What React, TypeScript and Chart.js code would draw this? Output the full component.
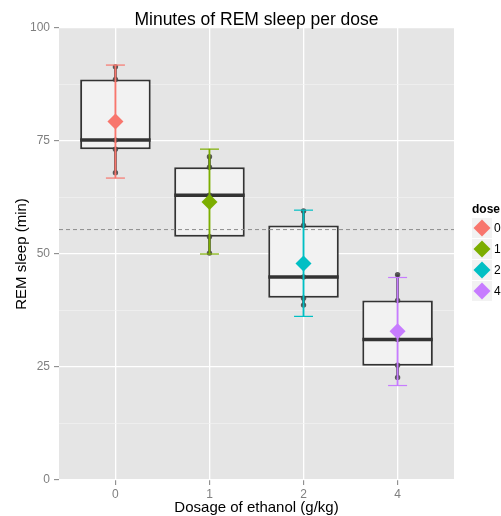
import React, { useEffect, useRef } from "react";
import { Chart, registerables } from "chart.js";

Chart.register(...registerables);

const FONT = '"Liberation Sans", Arial, sans-serif';

const doseLabels = ["0", "1", "2", "4"];
const doseColors = ["#F8766D", "#7CAE00", "#00BFC4", "#C77CFF"];

const remDose0 = [91.4, 88.6, 75.2, 73.2, 68.0];
const remDose1 = [71.5, 69.2, 63.0, 53.8, 50.2];
const remDose2 = [59.5, 56.3, 44.9, 40.2, 38.7];
const remDose4 = [45.4, 39.7, 31.1, 25.4, 22.7];

const boxLower = [73.2, 53.8, 40.3, 25.3];
const boxMedian = [75.2, 63.0, 44.9, 31.1];
const boxUpper = [88.6, 69.2, 56.3, 39.7];
const whiskerLow = [68.0, 50.2, 38.7, 22.7];
const whiskerHigh = [91.4, 71.5, 59.5, 45.4];

const doseMean = [79.3, 61.5, 47.9, 32.9];
const ciLow = [66.8, 50.0, 36.2, 20.9];
const ciHigh = [91.8, 73.2, 59.7, 44.8];

const yMajorTicks = [0, 25, 50, 75, 100];
const yMinorTicks = [12.5, 37.5, 62.5, 87.5];

const titleText = "Minutes of REM sleep per dose";
const xTitle = "Dosage of ethanol (g/kg)";
const yTitle = "REM sleep (min)";
const legendTitle = "dose";

export default function App() {
  const ref = useRef<HTMLCanvasElement | null>(null);

  useEffect(() => {
    document.body.style.margin = "0";
    const canvas = ref.current;
    if (!canvas) return;

    const groups = [remDose0, remDose1, remDose2, remDose4];
    const allPts: { x: number; y: number }[] = [];
    groups.forEach((g, i) => g.forEach((v) => allPts.push({ x: i, y: v })));
    const grandMean = allPts.reduce((s, p) => s + p.y, 0) / allPts.length;

    const capData: { x: number; y: number }[] = [];
    const capColors: string[] = [];
    doseLabels.forEach((_, i) => {
      capData.push({ x: i, y: ciLow[i] });
      capData.push({ x: i, y: ciHigh[i] });
      capColors.push(doseColors[i], doseColors[i]);
    });

    const bgPlugin = {
      id: "panelBg",
      beforeDraw(chart: any) {
        const { ctx, chartArea } = chart;
        ctx.save();
        ctx.fillStyle = "#E5E5E5";
        ctx.fillRect(chartArea.left, chartArea.top, chartArea.right - chartArea.left, chartArea.bottom - chartArea.top);
        ctx.restore();
      },
      afterDraw(chart: any) {
        const { ctx, chartArea } = chart;
        ctx.save();
        ctx.fillStyle = "#000";
        ctx.font = `17.5px ${FONT}`;
        ctx.textAlign = "center";
        ctx.textBaseline = "alphabetic";
        ctx.fillText(titleText, (chartArea.left + chartArea.right) / 2, 25);
        ctx.restore();
      },
    };

    const zeroPad = (s: any) => {
      s.paddingTop = 0;
      s.paddingBottom = 0;
      s.paddingLeft = 0;
      s.paddingRight = 0;
    };

    const chart = new Chart(canvas, {
      type: "bar",
      data: {
        datasets: [
          {
            type: "bar",
            data: whiskerLow.map((lo, i) => ({ x: i, y: [lo, whiskerHigh[i]] })),
            backgroundColor: "rgba(51,51,51,0.9)",
            barThickness: 2,
            grouped: false,
            order: 10,
          } as any,
          {
            type: "bar",
            data: boxLower.map((lo, i) => ({ x: i, y: [lo, boxUpper[i]] })),
            backgroundColor: "#F2F2F2",
            borderColor: "#333333",
            borderWidth: 2,
            borderSkipped: false,
            barPercentage: 0.75,
            categoryPercentage: 1,
            grouped: false,
            order: 9,
          } as any,
          {
            type: "scatter",
            data: boxMedian.map((m, i) => ({ x: i, y: m })),
            pointStyle: "line",
            pointRadius: 35.2,
            pointBorderColor: "#333333",
            pointBorderWidth: 3.5,
            order: 8,
          } as any,
          {
            type: "line",
            data: [
              { x: -0.6, y: grandMean },
              { x: 3.6, y: grandMean },
            ],
            borderColor: "#8C8C8C",
            borderWidth: 1,
            borderDash: [4, 3],
            pointRadius: 0,
            order: 7,
          } as any,
          {
            type: "scatter",
            data: allPts,
            pointRadius: 2.7,
            pointBackgroundColor: "rgba(64,64,64,0.85)",
            pointBorderWidth: 0,
            order: 6,
          } as any,
          {
            type: "bar",
            data: ciLow.map((lo, i) => ({ x: i, y: [lo, ciHigh[i]] })),
            backgroundColor: doseColors,
            barThickness: 1.2,
            grouped: false,
            order: 5,
          } as any,
          {
            type: "scatter",
            data: capData,
            pointStyle: "line",
            pointRadius: 9.5,
            pointBorderColor: capColors,
            pointBorderWidth: 1.2,
            order: 4,
          } as any,
          {
            type: "scatter",
            data: doseMean.map((m, i) => ({ x: i, y: m })),
            pointStyle: "rectRot",
            pointRadius: 8,
            pointBackgroundColor: doseColors,
            pointBorderWidth: 0,
            order: 3,
          } as any,
        ],
      },
      options: {
        animation: false,
        responsive: false,
        devicePixelRatio: 1,
        events: [],
        layout: { autoPadding: false, padding: { top: 28, right: 47, left: 0, bottom: 0 } },
        plugins: {
          legend: { display: false },
          tooltip: { enabled: false },
          title: { display: false },
        },
        scales: {
          x: {
            type: "linear",
            min: -0.6,
            max: 3.6,
            offset: false,
            afterBuildTicks: (s: any) => {
              s.ticks = doseLabels.map((_, i) => ({ value: i }));
            },
            afterFit: (s: any) => {
              s.height = 36;
              zeroPad(s);
            },
            ticks: {
              callback: (v: any) => doseLabels[v] ?? "",
              color: "#7F7F7F",
              font: { family: FONT, size: 12 },
              padding: 2,
              autoSkip: false,
              maxRotation: 0,
            },
            grid: {
              color: "#FFFFFF",
              lineWidth: 1.3,
              tickColor: "#7F7F7F",
              tickLength: 5,
              tickWidth: 1,
              offset: false,
            },
            border: { display: false },
            title: {
              display: true,
              text: xTitle,
              color: "#000",
              font: { family: FONT, size: 15, lineHeight: 1.05 },
              padding: { top: 0, bottom: 0 },
            },
          },
          y: {
            type: "linear",
            min: 0,
            max: 100,
            afterBuildTicks: (s: any) => {
              s.ticks = [...yMajorTicks, ...yMinorTicks].sort((a, b) => a - b).map((v) => ({ value: v }));
            },
            afterFit: (s: any) => {
              s.width = 59;
              zeroPad(s);
            },
            ticks: {
              callback: (v: any) => (yMajorTicks.includes(v) ? String(v) : ""),
              color: "#7F7F7F",
              font: { family: FONT, size: 12 },
              padding: 4,
              autoSkip: false,
            },
            grid: {
              color: (c: any) => (yMajorTicks.includes(c.tick?.value) ? "#FFFFFF" : "#F2F2F2"),
              lineWidth: (c: any) => (yMajorTicks.includes(c.tick?.value) ? 1.3 : 0.7),
              tickColor: (c: any) => (yMajorTicks.includes(c.tick?.value) ? "#7F7F7F" : "rgba(0,0,0,0)"),
              tickLength: 5,
              tickWidth: 1,
            },
            border: { display: false },
            title: {
              display: true,
              text: yTitle,
              color: "#000",
              font: { family: FONT, size: 15, lineHeight: 1.2 },
              padding: { top: 13, bottom: 0 },
            },
          },
        },
      } as any,
      plugins: [bgPlugin],
    });

    return () => chart.destroy();
  }, []);

  return (
    <div style={{ position: "relative", width: 501, height: 516, overflow: "hidden", background: "#fff" }}>
      <canvas ref={ref} width={501} height={516} style={{ display: "block" }} />
      <div
        style={{
          position: "absolute",
          left: 472,
          top: 203,
          font: `bold 12px ${FONT}`,
          lineHeight: "12px",
          color: "#000",
          whiteSpace: "nowrap",
        }}
      >
        {legendTitle}
      </div>
      {doseLabels.map((lab, i) => (
        <div key={lab} style={{ position: "absolute", left: 472, top: 218 + 21 * i, height: 20, whiteSpace: "nowrap" }}>
          <div style={{ position: "absolute", left: 0, top: 0, width: 20, height: 20, background: "#F2F2F2" }}>
            <div
              style={{
                position: "absolute",
                left: 4,
                top: 4,
                width: 12,
                height: 12,
                background: doseColors[i],
                transform: "rotate(45deg)",
              }}
            />
          </div>
          <div
            style={{
              position: "absolute",
              left: 22,
              top: 4,
              font: `12px ${FONT}`,
              lineHeight: "12px",
              color: "#000",
            }}
          >
            {lab}
          </div>
        </div>
      ))}
    </div>
  );
}
